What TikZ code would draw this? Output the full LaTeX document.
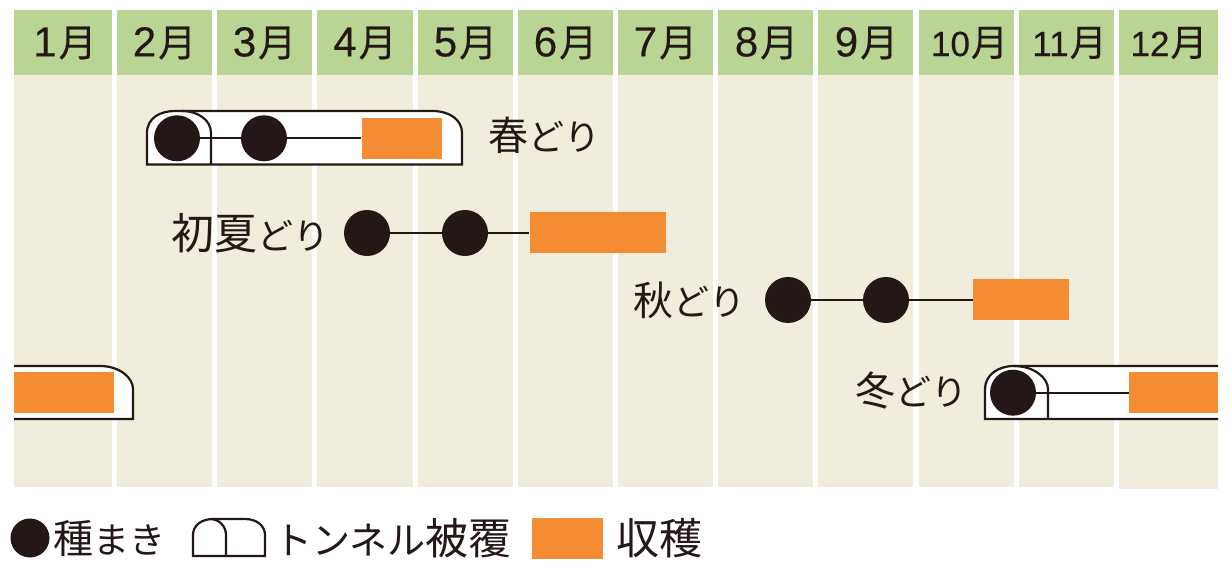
\documentclass[tikz,border=0pt]{standalone}
\usepackage{fontspec}
\setmainfont{Noto Sans CJK JP}
\newfontfamily\monthfont{Noto Sans CJK JP}[FakeBold=0.25]
\newfontfamily\digitfont{Liberation Sans}[FakeBold=0.3]
\definecolor{hdr}{RGB}{186,212,148}
\definecolor{bgc}{RGB}{240,237,220}
\definecolor{ink}{RGB}{35,24,21}
\definecolor{org}{RGB}{243,140,50}
\newcommand{\kj}[1]{{\fontsize{40}{41}\selectfont #1}}
\newcommand{\kjj}[1]{{\fontsize{43}{44}\selectfont #1}}
\newcommand{\mj}[1]{{\digitfont\fontsize{42}{42}\selectfont #1\hspace{2pt}\monthfont\fontsize{38}{38}\selectfont 月}}
\newcommand{\mjj}[1]{{\digitfont\fontsize{35}{35}\selectfont #1\hspace{1pt}\monthfont\fontsize{37}{37}\selectfont 月}}
\tikzset{
 x=1pt,y=-1pt,
 dot/.style={circle,fill=ink,inner sep=0pt,minimum size=46pt},
 harvest/.style={fill=org,draw=none,inner sep=0pt,minimum height=41pt},
 link/.style={draw=ink,line width=1.8pt},
 tunnel/.style={draw=ink,line width=2.2pt,fill=white},
 tunnelin/.style={draw=ink,line width=2.2pt},
 label/.style={font=\fontsize{36}{38}\selectfont,text=ink,inner sep=0pt},
 month/.style={text=ink,inner sep=0pt},
}
\newcommand{\mon}[5]{% x0 x1 text id xshift
 \fill[bgc] (#1,75) rectangle (#2,487);
 \fill[hdr] (#1,10) rectangle (#2,75);
 \node[month] (m#4) at ({(#1+#2)/2+#5},43) {#3};
}
\begin{document}
\begin{tikzpicture}
\useasboundingbox (0,0) rectangle (1232,569);
\mon{14}{112}{\mj{1}}{1}{2}
\mon{117}{212}{\mj{2}}{2}{0}
\mon{217}{312}{\mj{3}}{3}{0}
\mon{317}{413}{\mj{4}}{4}{0}
\mon{418}{513}{\mj{5}}{5}{0}
\mon{518}{613}{\mj{6}}{6}{0}
\mon{618}{713}{\mj{7}}{7}{0}
\mon{718}{813}{\mj{8}}{8}{1}
\mon{818}{913}{\mj{9}}{9}{1}
\mon{919}{1014}{\mjj{10}}{10}{3}
\mon{1019}{1114}{\mjj{11}}{11}{3}
\fill[bgc] (1119,75) rectangle (1218,489);
\fill[hdr] (1119,10) rectangle (1218,75);
\node[month] (m12) at (1169,43) {\mjj{12}};
% spring
\draw[tunnel] (147,164.5) -- (147,133) .. controls (147,118) and (160,111) .. (175,111) -- (432,111) .. controls (450,111) and (462,120) .. (462,133) -- (462,164.5) -- cycle;
\draw[tunnelin] (211,164.5) -- (211,133) .. controls (211,120) and (198,111) .. (182,111);
\node[dot] (a1) at (177,138.3) {};
\node[dot] (a2) at (264,138.3) {};
\node[harvest,minimum width=80pt] (a3) at (401.5,138.3) {};
\draw[link] (a1) -- (a2);
\draw[link] (a2) -- (a3);
\node[label,anchor=west] (lspring) at (488,135) {\kj{春}どり};
% early summer
\node[label,anchor=east] (lsummer) at (330,233) {\kjj{初夏}どり};
\node[dot] (b1) at (367,233) {};
\node[dot] (b2) at (465,233) {};
\node[harvest,minimum width=136pt] (b3) at (597.5,233) {};
\draw[link] (b1) -- (b2);
\draw[link] (b2) -- (b3);
% autumn
\node[label,anchor=east] (lautumn) at (746,300) {\kj{秋}どり};
\node[dot] (c1) at (788,300) {};
\node[dot] (c2) at (886,300) {};
\node[harvest,minimum width=96pt] (c3) at (1021,300) {};
\draw[link] (c1) -- (c2);
\draw[link] (c2) -- (c3);
% winter
\draw[tunnel] (14,366) -- (100,366) .. controls (120,366) and (133,378) .. (133,389) -- (133,419) -- (14,419);
\node[harvest,minimum width=100pt] (d0) at (64,392.7) {};
\node[label,anchor=east] (lwinter) at (968,390) {\kj{冬}どり};
\fill[white] (985,389) .. controls (985,375) and (998,366) .. (1014,366) -- (1218,366) -- (1218,419) -- (985,419) -- cycle;
\draw[tunnelin] (1218,366) -- (1014,366) .. controls (998,366) and (985,375) .. (985,389) -- (985,419) -- (1218,419);
\draw[tunnelin] (1014,366) .. controls (1034,366) and (1048,378) .. (1048,389) -- (1048,419);
\node[dot] (d1) at (1013,392.7) {};
\node[harvest,minimum width=89pt] (d2) at (1173.5,392.7) {};
\draw[link] (d1) -- (d2);
% legend
\node[circle,fill=ink,inner sep=0pt,minimum size=39pt] (k1) at (30,538) {};
\node[label,anchor=west] (k1t) at (53,538) {\kj{種}まき};
\draw[tunnelin,fill=white] (193,556) -- (193,535) .. controls (193,525) and (202,519) .. (213,519) -- (245,519) .. controls (257,519) and (265,526) .. (265,535) -- (265,556) -- cycle;
\draw[tunnelin] (226,556) -- (226,535) .. controls (226,526) and (219,519) .. (210,519);
\node[label,anchor=west] (k2t) at (274,538) {{\fontsize{38}{38}\selectfont トンネル}\kjj{被覆}};
\node[harvest,minimum width=71pt] (k3) at (567.5,538) {};
\node[label,anchor=west] (k3t) at (616,538) {\kjj{収穫}};
\end{tikzpicture}
\end{document}
